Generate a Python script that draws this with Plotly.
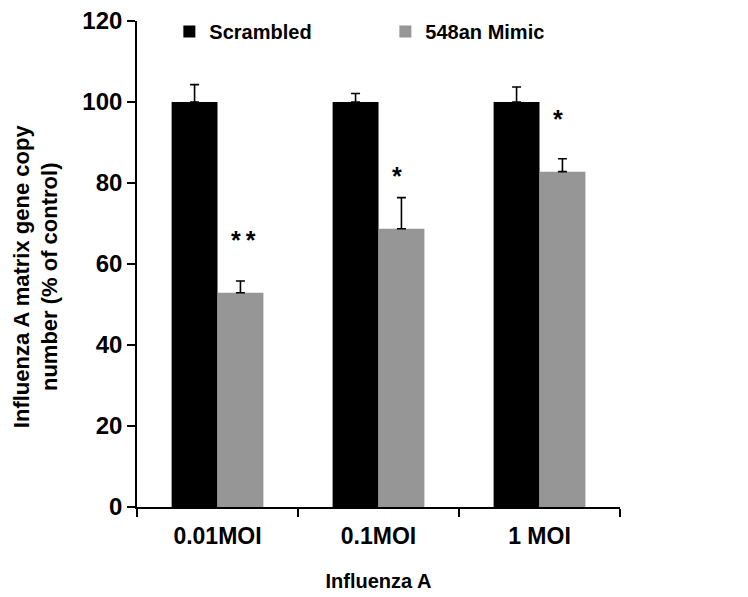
import plotly.graph_objects as go

categories = ["0.01MOI", "0.1MOI", "1 MOI"]
scrambled = [100, 100, 100]
scrambled_err = [4.3, 2.1, 3.7]
mimic = [52.9, 68.7, 82.8]
mimic_err = [2.9, 7.7, 3.2]
sig_labels = ["*\u2009*", "*", "*"]

FONT = "Liberation Sans, Arial, sans-serif"

fig = go.Figure()
fig.add_trace(go.Bar(
    x=categories, y=scrambled, name="<b>Scrambled</b>",
    marker=dict(color="#000000", line=dict(width=0)),
    error_y=dict(type="data", array=scrambled_err, arrayminus=[0]*3, symmetric=False,
                 color="#000000", thickness=1.6, width=4.5),
))
fig.add_trace(go.Bar(
    x=categories, y=mimic, name="<b>548an Mimic</b>",
    marker=dict(color="#969696", line=dict(width=0)),
    error_y=dict(type="data", array=mimic_err, arrayminus=[0]*3, symmetric=False,
                 color="#000000", thickness=1.6, width=4.5),
))

for c, v, s in zip(categories, mimic, sig_labels):
    fig.add_annotation(x=c, y=v + 13, xref="x", yref="y", text="<b>" + s + "</b>",
                       showarrow=False, xshift=11, xanchor="left", yanchor="middle",
                       font=dict(family=FONT, size=25, color="#000000"))

fig.add_annotation(x=0, y=0.475, xref="paper", yref="paper", xshift=-101,
                   text="<b>Influenza A matrix gene copy<br>number (% of control)</b>",
                   textangle=-90, showarrow=False, xanchor="center", yanchor="middle",
                   font=dict(family=FONT, size=22, color="#000000"))

fig.update_layout(
    width=748, height=597,
    margin=dict(l=129, r=136, t=13, b=98, autoexpand=False),
    paper_bgcolor="white", plot_bgcolor="white",
    barmode="group", bargap=0.43, bargroupgap=0,
    font=dict(family=FONT, color="#000000"),
    showlegend=True,
    legend=dict(orientation="h", x=0.067, y=1.0185, xanchor="left", yanchor="top",
                font=dict(family=FONT, size=20, color="#000000"),
                entrywidth=171, entrywidthmode="pixels", itemwidth=30,
                bgcolor="rgba(0,0,0,0)"),
    xaxis=dict(
        showline=True, linecolor="#000000", linewidth=1.6,
        ticks="outside", tickson="boundaries", ticklen=8, tickcolor="#000000", tickwidth=1.6,
        tickfont=dict(family=FONT, size=23, color="#000000"),
        tickprefix="<b>", ticksuffix="</b>", ticklabelstandoff=8,
        title=dict(text="<b>Influenza A</b>", font=dict(family=FONT, size=20, color="#000000"), standoff=26),
        showgrid=False,
    ),
    yaxis=dict(
        range=[0, 120], dtick=20, tick0=0,
        showline=True, linecolor="#000000", linewidth=1.6,
        ticks="outside", ticklen=8, tickcolor="#000000", tickwidth=1.6,
        tickfont=dict(family=FONT, size=24, color="#000000"),
        tickprefix="<b>", ticksuffix="</b>", ticklabeloverflow="allow",
        showgrid=False, zeroline=False,
    ),
)

fig.write_html("out.html")
